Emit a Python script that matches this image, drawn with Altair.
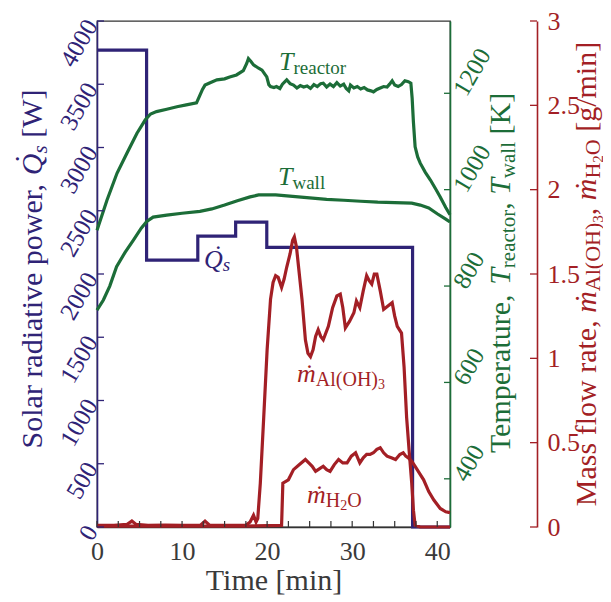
import altair as alt
import pandas as pd

# ---------------- data ----------------
q_time = [0, 5.83, 11.85, 16.3, 19.96, 37.1, 41.5]
q_power = [3770, 2110, 2300, 2410, 2210, 0, 0]

tr_time = [0, 1.17, 2.35, 3.5, 4.7, 5.68, 6.3, 7.0, 8.2, 9.4, 10.5, 11.7, 12.0, 12.4, 12.7,
           13.3, 14.1, 15.0, 15.6, 16.4, 17.2, 17.6, 17.8, 18.1, 18.4, 19.0, 19.4, 19.96,
           20.2, 20.4, 20.8, 21.1, 21.5, 21.8, 22.3, 22.7, 23.1, 23.5, 23.9, 24.3, 24.7,
           25.1, 25.5, 25.9, 26.3, 26.6, 27.0, 27.4, 27.8, 28.2, 28.6, 29.0, 29.3, 29.6,
           29.8, 30.2, 30.6, 31.0, 31.4, 31.8, 32.2, 32.5, 32.9, 33.3, 33.7, 34.1, 34.4,
           34.7, 35.0, 35.4, 35.8, 36.2, 36.6, 36.9, 37.05, 37.2, 37.4, 37.7, 38.0, 38.6,
           39.2, 39.8, 40.35, 41.0, 41.5]
tr_temp = [916, 978, 1034, 1075, 1117, 1145, 1157, 1162, 1167, 1172, 1176, 1180, 1192, 1208, 1217,
           1222, 1228, 1230, 1234, 1238, 1247, 1262, 1272, 1266, 1259, 1252, 1248, 1234,
           1218, 1214, 1212, 1214, 1210, 1219, 1228, 1220, 1217, 1211, 1216, 1213, 1215,
           1210, 1218, 1214, 1220, 1221, 1213, 1219, 1214, 1222, 1215, 1219, 1210, 1205,
           1217, 1211, 1214, 1209, 1212, 1207, 1205, 1203, 1208, 1211, 1214, 1213, 1219,
           1226, 1217, 1214, 1218, 1226, 1224, 1221, 1190, 1140, 1089, 1068, 1055, 1036,
           1020, 1002, 985, 963, 948]

tw_time = [0, 0.75, 1.5, 2.3, 3.3, 4.3, 5.2, 5.85, 6.6, 8.2, 10.0, 12.1, 13.5, 15.0, 16.5,
           18.0, 19.0, 21.0, 23.0, 25.0, 27.0, 29.0, 31.0, 33.0, 35.0, 37.0, 38.0, 39.0,
           40.0, 41.0, 41.5]
tw_temp = [750, 771, 800, 840, 870, 896, 920, 934, 943, 947, 951, 955, 960, 968, 977,
           985, 989, 989, 986, 983, 980, 978, 976, 974, 973, 972, 968, 962,
           950, 939, 933]

al_time = [0, 2, 3.5, 4.1, 4.6, 6, 8, 10, 12.2, 12.7, 13.2, 15, 17.5, 18.0, 18.4, 18.7, 18.9,
           19.2, 19.6, 20.0, 20.4, 20.7, 21.0, 21.3, 21.7, 22.0, 22.3, 22.7, 23.0, 23.2,
           23.45, 23.7, 24.1, 24.5, 24.8, 25.1, 25.4, 25.7, 26.0, 26.3, 26.6, 27.2, 27.7,
           28.2, 28.6, 28.9, 29.2, 29.7, 30.2, 30.5, 30.9, 31.3, 31.7, 32.0, 32.3, 32.6,
           32.9, 33.3, 33.7, 34.2, 34.7, 35.0, 35.3, 35.8, 36.1, 36.4, 36.7, 37.0, 37.2,
           37.4, 38.0, 39.0, 41.5]
al_rate = [0.01, 0.01, 0.015, 0.035, 0.015, 0.01, 0.012, 0.01, 0.012, 0.035, 0.012, 0.01, 0.01,
           0.03, 0.07, 0.03, 0.05, 0.26, 0.65, 1.05, 1.35, 1.45, 1.49, 1.48, 1.42, 1.47, 1.54,
           1.62, 1.70, 1.72, 1.66, 1.54, 1.35, 1.11, 1.03, 1.01, 1.05, 1.13, 1.17, 1.13, 1.11,
           1.19, 1.30, 1.37, 1.38, 1.30, 1.18, 1.22, 1.27, 1.34, 1.30, 1.40, 1.49, 1.46, 1.44,
           1.50, 1.50, 1.40, 1.29, 1.31, 1.33, 1.25, 1.19, 1.15, 0.95, 0.65, 0.45, 0.26, 0.10,
           0.01, 0.0, 0.0, 0.0]

h2o_time = [0, 17.0, 21.7, 21.85, 22.5, 23.1, 23.8, 24.5, 24.9, 25.3, 25.7, 26.0, 26.6, 27.0,
            27.4, 27.9, 28.4, 28.9, 29.4, 29.9, 30.4, 30.9, 31.3, 31.7, 32.1, 32.5, 32.9, 33.3,
            33.7, 34.1, 34.6, 35.1, 35.6, 36.0, 36.3, 36.6, 37.0, 37.4, 37.9, 38.4, 39.0, 39.6,
            40.35, 41.0, 41.5]
h2o_rate = [0.005, 0.005, 0.01, 0.26, 0.28, 0.34, 0.37, 0.40, 0.38, 0.36, 0.33, 0.34, 0.36, 0.34,
            0.33, 0.37, 0.40, 0.38, 0.38, 0.42, 0.44, 0.38, 0.41, 0.43, 0.43, 0.44, 0.46, 0.47,
            0.44, 0.42, 0.41, 0.40, 0.43, 0.44, 0.42, 0.41, 0.39, 0.36, 0.32, 0.28, 0.21, 0.16,
            0.11, 0.09, 0.085]

x_labels = [0, 10, 20, 30, 40]
x_ticks = [i * 2.5 for i in range(17)]
q_ticks = [0, 500, 1000, 1500, 2000, 2500, 3000, 3500, 4000]
t_ticks = [400, 600, 800, 1000, 1200]
m_ticks = [0, 0.5, 1, 1.5, 2, 2.5, 3]

# ---------------- styling ----------------
FONT = "Liberation Serif"
NAVY = "#2f2376"
GREEN = "#1c6d38"
RED = "#a31f25"
FRAME = "#333333"
W, H = 353, 506
XMAX = 41.5
RED_OFF = 87
LW = 3.2

xs = alt.Scale(domain=[0, XMAX], nice=False, zero=False)
qs = alt.Scale(domain=[0, 4000], nice=False, zero=False)
ts = alt.Scale(domain=[300, 1350], nice=False, zero=False)
ms = alt.Scale(domain=[0, 3], nice=False, zero=False)

# ---------------- rich text (sub/superscript) helpers ----------------
REG = {" ": 250, ",": 250, ".": 250, "(": 333, ")": 333, "[": 333, "]": 333, "/": 278,
       "A": 722, "H": 722, "K": 722, "M": 889, "O": 722, "Q": 722, "S": 556, "T": 611, "W": 944,
       "a": 444, "c": 444, "d": 500, "e": 444, "f": 333, "g": 500, "i": 278, "l": 278, "m": 778,
       "n": 500, "o": 500, "p": 500, "r": 333, "s": 389, "t": 278, "u": 500, "v": 500, "w": 722}
ITA = {"T": 556, "Q": 722, "m": 722, "s": 389}


def tw(text, size, italic):
    tbl = ITA if italic else REG
    return sum(tbl.get(c, REG.get(c, 500)) for c in text) * size / 1000.0


def put(text, size, italic, shift, o, x0, y0, angle, color):
    if angle == 0:
        x, y = x0 + o, y0 + shift
    else:
        x, y = x0 + shift, y0 - o
    return {"x": x, "y": y, "text": text, "size": size, "angle": angle,
            "color": color, "italic": italic}


def rich(pieces, x0, y0, angle, color, center):
    total = sum(tw(p[0], p[1], p[2]) for p in pieces)
    off = -total / 2.0 if center else 0.0
    rows = []
    for p in pieces:
        text, size, it, sh = p[0], p[1], p[2], p[3]
        w = tw(text, size, it)
        lead = len(text) - len(text.lstrip(" "))
        rows.append(put(text.strip(), size, it, sh, off + lead * 250 * size / 1000.0,
                        x0, y0, angle, color))
        if len(p) > 4:
            dx_f, up_f = p[4]
            dw = 333 * size / 1000.0
            rows.append(put("\u02d9", size, it, sh - up_f * size,
                            off + w / 2 - dw / 2 + dx_f * size, x0, y0, angle, color))
        off += w
    return rows


TS, SS, SSS = 30, 21, 15
rows = []
rows += rich([("Solar radiative power, ", TS, False, 0),
              ("Q", TS, True, 0, (0.12, 0.2)), ("s", SS, True, 5), (" [W]", TS, False, 0)],
             -55, 248, 270, NAVY, True)
rows += rich([("Temperature, ", TS, False, 0), ("T", TS, True, 0), ("reactor", SS, False, 5),
              (", ", TS, False, 0), ("T", TS, True, 0), ("wall", SS, False, 5),
              (" [K]", TS, False, 0)],
             413, 252, 270, GREEN, True)
rows += rich([("Mass flow rate, ", TS, False, 0), ("m", TS, True, 0, (0.06, 0.0)),
              ("Al(OH)", SS + 1, False, 4), ("3", SSS, False, 7), (", ", TS, False, 0),
              ("m", TS, True, 0, (0.06, 0.0)), ("H", SS + 1, False, 4), ("2", SSS, False, 7),
              ("O", SS + 1, False, 4), (" [g/min]", TS, False, 0)],
             499, 253, 270, RED, True)
LS, LSS, LSSS = 26, 19, 14
rows += rich([("Q", LS, True, 0, (0.12, 0.2)), ("s", LSS, True, 3)], 107, 247, 0, NAVY, False)
rows += rich([("T", LS, True, 0), ("reactor", LSS, False, 4)], 182, 49, 0, GREEN, False)
rows += rich([("T", LS, True, 0), ("wall", LSS, False, 4)], 181, 164, 0, GREEN, False)
rows += rich([("m", LS, True, 0, (0.06, 0.0)), ("Al(OH)", LSS + 1, False, 4),
              ("3", LSSS, False, 7)], 200, 361, 0, RED, False)
rows += rich([("m", LS, True, 0, (0.06, 0.0)), ("H", LSS + 1, False, 4), ("2", LSSS, False, 7),
              ("O", LSS + 1, False, 4)], 210, 482, 0, RED, False)
txt = pd.DataFrame(rows)

# ---------------- layers ----------------
x_axis = alt.Axis(values=x_labels, ticks=False, tickSize=0, grid=False, domainColor=FRAME,
                  domainWidth=1.3, labelColor="#3a3a3a", labelFont=FONT, labelFontSize=26,
                  labelPadding=11, labelBaseline="top", labelAngle=0, labelFlush=False,
                  title="Time [min]", titleFont=FONT, titleFontSize=30,
                  titleFontWeight="normal", titleColor="#3a3a3a", titleY=62,
                  titleBaseline="alphabetic")
navy_axis = alt.Axis(orient="left", values=q_ticks, format="d", ticks=False, tickSize=0,
                     grid=False, domainColor=NAVY, domainWidth=1.6, labelColor=NAVY,
                     labelFont=FONT, labelFontSize=25, labelAngle=300, labelAlign="right",
                     labelBaseline="middle", labelPadding=6, labelFlush=False, title=None)
green_axis = alt.Axis(orient="right", values=t_ticks, format="d", ticks=False, tickSize=0,
                      grid=False, domainColor=GREEN, domainWidth=1.6, labelColor=GREEN,
                      labelFont=FONT, labelFontSize=25, labelAngle=300, labelAlign="left",
                      labelBaseline="middle", labelPadding=9, labelFlush=False, title=None)
red_axis = alt.Axis(orient="right", offset=RED_OFF, values=m_ticks, format="~g", ticks=False,
                    tickSize=0, grid=False, domainColor=RED, domainWidth=1.6, labelColor=RED,
                    labelFont=FONT, labelFontSize=26, labelAngle=0, labelAlign="left",
                    labelBaseline="middle", labelPadding=10, labelFlush=False, title=None)

qdf = pd.DataFrame({"t": q_time, "v": q_power})
trdf = pd.DataFrame({"t": tr_time, "v": tr_temp})
twdf = pd.DataFrame({"t": tw_time, "v": tw_temp})
aldf = pd.DataFrame({"t": al_time, "v": al_rate})
hdf = pd.DataFrame({"t": h2o_time, "v": h2o_rate})

navy_line = alt.Chart(qdf).mark_line(color=NAVY, strokeWidth=LW, interpolate="step-after",
                                     strokeJoin="miter").encode(
    x=alt.X("t:Q", scale=xs, axis=x_axis), y=alt.Y("v:Q", scale=qs, axis=navy_axis))
tr_line = alt.Chart(trdf).mark_line(color=GREEN, strokeWidth=LW).encode(
    x=alt.X("t:Q", scale=xs, axis=None), y=alt.Y("v:Q", scale=ts, axis=green_axis))
tw_line = alt.Chart(twdf).mark_line(color=GREEN, strokeWidth=LW).encode(
    x=alt.X("t:Q", scale=xs, axis=None), y=alt.Y("v:Q", scale=ts, axis=None))
al_line = alt.Chart(aldf).mark_line(color=RED, strokeWidth=LW).encode(
    x=alt.X("t:Q", scale=xs, axis=None), y=alt.Y("v:Q", scale=ms, axis=red_axis))
h_line = alt.Chart(hdf).mark_line(color=RED, strokeWidth=LW).encode(
    x=alt.X("t:Q", scale=xs, axis=None), y=alt.Y("v:Q", scale=ms, axis=None))

tick_x = alt.Chart(pd.DataFrame({"v": x_ticks})).mark_rule(color=FRAME, strokeWidth=1.2).encode(
    x=alt.X("v:Q", scale=xs, axis=None), y=alt.value(H - 6), y2=alt.value(H))
tick_q = alt.Chart(pd.DataFrame({"v": q_ticks})).mark_rule(color=NAVY, strokeWidth=1.3).encode(
    y=alt.Y("v:Q", scale=qs, axis=None), x=alt.value(0), x2=alt.value(7))
tick_t = alt.Chart(pd.DataFrame({"v": t_ticks})).mark_rule(color=GREEN, strokeWidth=1.3).encode(
    y=alt.Y("v:Q", scale=ts, axis=None), x=alt.value(W - 6), x2=alt.value(W))
tick_m = alt.Chart(pd.DataFrame({"v": m_ticks})).mark_rule(color=RED, strokeWidth=1.3).encode(
    y=alt.Y("v:Q", scale=ms, axis=None), x=alt.value(W + RED_OFF - 7), x2=alt.value(W + RED_OFF))


def text_layer(df, style):
    return alt.Chart(df).mark_text(font=FONT, fontStyle=style, align="left",
                                   baseline="alphabetic").encode(
        x=alt.X("x:Q", scale=None, axis=None),
        y=alt.Y("y:Q", scale=None, axis=None),
        text="text:N",
        size=alt.Size("size:Q", scale=None, legend=None),
        angle=alt.Angle("angle:Q", scale=None),
        color=alt.Color("color:N", scale=None, legend=None),
    )


txt_up = text_layer(txt[~txt["italic"]].drop(columns=["italic"]), "normal")
txt_it = text_layer(txt[txt["italic"]].drop(columns=["italic"]), "italic")

chart = alt.layer(
    navy_line, tr_line, tw_line, al_line, h_line,
    tick_x, tick_q, tick_t, tick_m, txt_up, txt_it,
).resolve_scale(
    x="independent", y="independent"
).properties(
    width=W, height=H,
    autosize=alt.AutoSizeParams(type="none"),
    padding={"left": 89, "top": 13, "right": 153, "bottom": 70},
).configure_view(
    stroke=FRAME, strokeWidth=1.3
)

chart.save("out.html", embed_options={"renderer": "svg", "actions": False})
